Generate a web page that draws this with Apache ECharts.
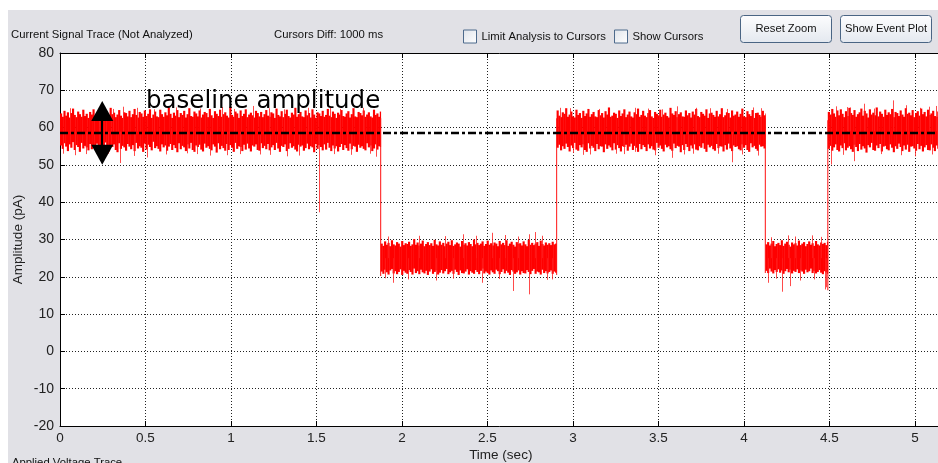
<!DOCTYPE html>
<html>
<head>
<meta charset="utf-8">
<script src="https://cdn.jsdelivr.net/npm/echarts@6/dist/echarts.min.js"></script>
<style>
html,body{margin:0;padding:0;background:#fff;}
#chart{width:938px;height:463px;}
</style>
</head>
<body>
<div id="chart"></div>
<script>
// ---- axis ticks ----
const xTicks = [0, 0.5, 1, 1.5, 2, 2.5, 3, 3.5, 4, 4.5, 5];
const yTicks = [-20, -10, 0, 10, 20, 30, 40, 50, 60, 70, 80];

// ---- trace: segment boundaries (sec) and per-bin (10 ms) envelope ----
const binStep = 0.01;
const segStart = [0, 1.875, 2.904, 4.125, 4.49];
const segEnd   = [1.875, 2.904, 4.125, 4.49, 5.155];
const segLevel = [58.9, 25.0, 58.9, 25.0, 59.0];

const hi1 = [63.8,62.9,64.5,63.2,64.1,62.7,63.9,65.1,63.4,62.8,64.3,63.6,62.9,64.8,63.1,63.7,62.6,64.2,63.5,64.9,
63.0,62.7,64.4,63.8,62.5,63.9,64.6,63.3,62.9,65.3,63.6,64.0,62.8,63.5,64.7,63.2,62.6,64.1,63.9,63.0,
64.5,62.8,63.6,65.0,63.4,62.7,64.2,63.8,62.9,64.6,63.1,63.7,64.9,62.6,63.5,64.3,63.0,62.8,64.8,63.6,
62.9,64.1,63.3,65.4,63.7,62.6,64.0,63.2,64.7,62.8,63.9,63.4,64.5,62.7,63.6,65.2,63.1,62.9,64.3,63.8,
63.0,64.6,62.7,63.5,64.2,63.9,62.8,65.0,63.3,62.6,64.4,63.7,63.1,64.8,62.9,63.6,64.1,63.2,62.7,65.6,
63.4,62.9,64.3,63.8,62.6,64.6,63.1,63.7,64.9,62.8,63.5,64.0,63.3,62.7,64.5,63.9,63.0,64.2,62.8,63.6,
64.7,63.2,62.9,64.1,63.8,62.6,65.1,63.4,63.0,64.4,62.8,63.7,64.8,63.1,62.7,64.0,63.5,65.3,62.9,63.6,
64.2,63.0,62.8,64.6,63.3,63.9,62.7,64.9,63.5,62.6,64.1,63.8,63.1,64.5,62.9,63.4,65.0,63.2,62.8,64.3,
63.7,62.6,64.0,63.5,64.7,63.1,62.9,63.8,64.4,62.7,63.6,65.2,63.0,62.8,64.2,63.9,63.3,64.6,62.9,63.5,
64.1,63.0,62.7,64.8,63.4,63.8,62.9,64.3];
const lo1 = [55.2,54.3,55.8,54.9,53.7,55.5,54.6,56.1,54.0,55.3,54.8,53.5,55.9,54.4,55.1,54.7,53.9,55.6,54.2,55.0,
54.5,55.7,53.8,54.9,55.4,54.1,56.0,54.6,53.6,55.2,54.8,55.5,54.0,53.4,55.8,54.3,55.1,54.7,53.8,55.6,
54.9,54.2,55.3,53.7,55.9,54.4,55.0,54.6,53.5,55.7,54.1,55.4,54.8,53.9,56.2,54.5,55.0,54.3,53.6,55.5,
54.7,55.2,53.8,54.9,55.6,54.0,55.3,54.5,53.4,55.8,54.2,55.1,54.7,53.7,55.5,54.4,55.9,54.0,53.5,55.2,
54.8,55.4,54.1,53.6,55.7,54.6,55.0,54.3,53.9,55.5,54.9,53.3,55.8,54.2,55.1,54.5,53.8,55.6,54.0,55.3,
54.6,53.5,55.9,54.3,55.0,54.8,53.7,55.4,54.1,55.7,54.4,53.6,55.2,54.9,55.5,54.0,53.8,55.8,54.5,55.1,
54.2,55.6,53.9,54.7,55.3,54.0,55.9,54.4,53.5,55.1,54.8,55.5,53.7,54.3,55.8,54.6,55.0,54.1,53.6,55.4,
54.9,55.2,53.8,54.5,55.7,54.2,55.0,54.7,53.4,55.6,54.3,55.3,54.8,53.9,55.5,54.1,55.9,54.6,53.7,55.2,
54.4,55.0,53.6,54.8,55.6,54.0,55.3,54.5,53.8,55.7,54.2,55.1,54.9,53.5,55.4,54.6,55.0,54.3,53.9,55.8,
54.7,55.2,53.7,54.4,55.5,54.1,55.0,54.8];

const hi2 = [28.9,28.3,29.5,28.6,29.1,28.2,29.8,28.7,28.4,29.3,28.9,28.1,29.6,28.5,29.0,28.8,29.4,28.3,28.7,30.1,
28.6,29.2,28.4,28.9,29.7,28.2,28.8,29.3,28.5,29.0,28.3,29.9,28.7,28.4,29.5,28.6,29.1,28.2,28.9,29.4,
28.5,29.8,28.3,28.7,29.2,28.9,28.1,29.6,28.6,29.0,28.4,29.3,28.8,28.2,30.0,28.7,29.1,28.5,28.9,29.5,
28.3,28.8,29.7,28.6,29.0,28.4,29.2,28.9,28.2,29.6,28.7,29.1,28.5,29.8,28.3,28.9,29.4,28.6,28.1,29.3,
28.8,29.0,28.4,29.5,28.7,28.2,29.9,28.6,29.1,28.5,28.9,29.3,28.3,29.7,28.8,28.4,29.2,28.6,29.0,28.5,
29.4,28.7,28.9];
const lo2 = [21.4,20.8,21.9,21.2,20.6,21.7,22.1,20.9,21.5,20.7,21.3,22.0,20.5,21.6,21.1,20.8,21.8,21.3,20.6,22.2,
21.0,21.5,20.7,21.9,21.2,20.9,21.6,20.5,21.4,22.0,20.8,21.3,21.7,20.6,21.1,21.8,20.9,21.5,22.1,20.7,
21.2,21.6,20.8,21.9,21.3,20.5,21.7,21.0,20.9,21.4,22.0,20.6,21.5,21.1,20.8,21.8,21.3,20.7,21.6,22.2,
20.9,21.4,21.0,20.6,21.7,21.2,20.8,21.9,21.5,20.7,21.3,22.0,20.9,21.6,21.1,20.5,21.8,21.4,20.8,21.2,
21.7,20.6,21.5,21.0,20.9,21.8,21.3,20.7,21.6,22.1,20.8,21.4,21.2,20.6,21.9,21.0,21.5,20.9,21.3,21.7,
20.8,21.4,21.1];

const hi3 = [64.6,63.2,62.8,64.1,63.7,65.2,62.9,63.5,64.3,63.0,62.7,64.8,63.4,63.9,62.6,64.5,63.1,63.8,65.0,62.9,
63.6,64.2,63.0,62.8,64.7,63.3,63.9,62.7,64.4,63.5,65.4,62.9,63.2,64.0,63.7,62.6,64.6,63.1,63.8,64.9,
62.8,63.5,64.3,63.0,62.7,64.1,63.6,65.1,62.9,63.4,64.5,63.2,62.8,63.9,64.7,63.0,62.6,64.2,63.7,63.3,
64.8,62.9,63.5,64.0,63.1,62.7,65.3,63.8,63.4,64.4,62.8,63.6,64.1,63.0,62.9,64.6,63.3,63.9,62.7,64.3,
63.5,65.0,63.1,62.8,64.2,63.7,63.2,64.9,62.6,63.8,64.0,63.4,62.9,64.5,63.0,63.6,65.2,62.8,63.3,64.1,
63.9,62.7,64.6,63.2,63.5,64.3,62.9,63.7,65.1,63.0,62.8,64.4,63.6,63.1,64.7,62.6,63.9,64.0,63.4,62.9,
64.5,63.3,63.8];
const lo3 = [54.6,55.4,53.9,55.0,54.3,55.7,54.8,53.6,55.2,54.5,55.9,54.1,53.8,55.3,54.7,55.5,54.0,53.5,55.8,54.4,
55.1,54.6,53.7,55.6,54.2,55.0,54.9,53.4,55.5,54.3,55.2,54.7,53.9,55.8,54.1,55.3,54.5,53.6,55.0,54.8,
55.4,53.8,54.9,55.7,54.0,55.1,54.6,53.5,55.6,54.2,55.3,54.8,53.7,55.5,54.4,55.0,54.1,53.9,55.9,54.6,
55.2,54.3,53.6,55.4,54.7,55.0,54.2,53.8,55.7,54.5,55.1,54.9,53.4,55.3,54.0,55.6,54.8,53.7,55.2,54.4,
55.5,54.1,53.9,55.0,54.6,55.8,54.3,53.5,55.4,54.7,55.1,54.2,53.8,55.6,54.5,55.0,54.9,53.6,55.3,54.1,
55.7,54.4,53.7,55.2,54.8,55.0,54.2,53.9,55.5,54.6,55.3,54.0,53.5,55.8,54.7,55.1,54.3,53.8,55.4,54.9,
55.0,54.4,55.6];

const hi4 = [28.7,29.3,28.4,28.9,29.6,28.2,28.8,29.1,28.5,29.8,28.3,28.9,29.4,28.6,28.1,29.2,28.7,29.0,28.4,29.7,
28.5,28.9,29.3,28.2,28.8,29.5,28.6,29.0,28.3,29.6,28.7,28.4,29.2,28.8,29.1,28.5,29.4];
const lo4 = [21.6,21.0,22.2,21.4,20.9,21.8,21.3,22.0,21.1,21.7,20.8,21.5,22.1,21.2,21.9,20.9,21.6,21.3,22.0,21.0,
21.7,21.4,20.8,21.9,21.2,21.5,22.2,21.0,21.6,20.9,21.3,21.8,21.1,20.7,21.5,21.2,20.8];

const hi5 = [64.2,63.5,65.0,63.8,62.9,64.6,63.3,64.9,63.7,62.8,64.4,63.1,65.3,63.9,63.4,64.7,62.9,63.6,64.1,65.1,
63.2,64.5,63.8,62.7,64.9,63.5,64.0,63.3,65.4,63.0,64.3,63.7,62.9,64.8,63.4,64.1,63.6,65.0,62.8,64.2,
63.9,63.1,64.6,63.5,62.9,65.2,63.7,64.0,63.3,64.7,62.8,63.9,64.4,63.2,65.1,63.6,64.2,63.0,64.8,63.4,
63.8,64.5,63.1,62.9,64.3,63.7,64.9];
const lo5 = [54.3,55.1,53.8,54.7,55.5,54.0,53.6,55.2,54.5,55.8,53.9,54.6,55.0,54.2,53.5,55.4,54.8,53.7,55.6,54.1,
55.0,54.4,53.3,55.3,54.7,55.9,54.0,53.8,55.2,54.5,55.6,53.6,54.9,55.1,54.2,53.9,55.5,54.6,53.4,55.0,
54.3,55.7,54.8,53.7,55.2,54.1,55.4,53.5,54.9,55.0,54.4,53.8,55.6,54.2,55.1,53.6,54.7,55.3,54.0,53.9,
55.5,54.6,53.7,55.2,54.3,55.0,54.8];

// isolated spikes [time, amplitude]
const spikes = [[0.02,53.0],[0.06,65.2],[0.09,52.6],[0.15,52.9],[0.23,65.4],[0.28,53.0],[0.31,65.0],[0.351,50.5],[0.37,65.6],
[0.43,52.4],[0.45,65.3],[0.507,52.0],[0.55,64.9],[0.62,52.8],[0.68,65.4],[0.74,53.1],[0.80,52.9],[0.82,65.1],
[0.88,52.5],[0.95,65.5],[0.975,52.6],[1.02,65.0],[1.05,52.9],[1.13,65.8],[1.17,52.8],[1.22,65.2],[1.228,52.7],
[1.31,64.9],[1.33,52.3],[1.40,52.5],[1.45,65.3],[1.516,37.3],[1.58,65.4],[1.60,52.9],[1.64,65.0],
[1.70,52.7],[1.77,65.3],[1.81,53.0],[1.85,52.2],
[1.90,19.6],[1.92,30.8],[1.949,18.4],[2.037,19.3],[2.1,31.0],[2.2,19.0],[2.25,30.9],[2.3,19.5],[2.358,31.4],
[2.43,31.0],[2.466,18.4],[2.524,31.8],[2.57,19.4],[2.6,31.2],[2.651,16.2],[2.68,30.8],
[2.74,31.4],[2.745,15.3],[2.778,32.0],[2.82,31.0],[2.85,19.2],[2.88,19.3],
[2.924,65.3],[2.98,65.2],[3.0,53.2],[3.06,52.7],[3.1,52.8],[3.15,65.0],[3.25,53.0],[3.3,52.9],[3.36,65.3],[3.363,53.5],
[3.44,65.1],[3.48,52.6],[3.52,64.9],[3.577,51.9],[3.606,65.7],[3.65,52.8],[3.7,53.0],[3.72,65.3],
[3.8,65.2],[3.85,53.0],[3.9,65.0],[3.928,50.7],[3.987,52.8],[4.05,65.4],[4.08,52.5],[4.1,65.2],
[4.142,18.4],[4.16,30.6],[4.19,19.5],[4.22,16.0],[4.259,31.1],[4.269,17.5],[4.3,30.8],[4.33,19.0],[4.396,31.1],
[4.41,19.3],[4.45,30.7],[4.474,16.6],[4.48,17.2],
[4.509,50.1],[4.54,65.7],[4.58,52.7],[4.6,65.5],[4.62,65.4],[4.645,51.0],[4.704,66.4],[4.76,65.1],[4.8,52.9],
[4.874,67.3],[4.92,52.6],[4.95,66.0],[5.0,52.3],[5.03,65.3],[5.08,65.6],[5.1,52.8],[5.12,65.8]];

// level transitions [time, from, to]
const transitions = [[1.875,62.5,20.2],[2.904,20.5,62.5],[4.125,62.5,21.0],[4.49,16.4,62.0]];

const baselineAmplitude = 58.7;
const arrowTime = 0.247, arrowTop = 64.45, arrowBottom = 52.75;

// ---- build data for the library ----
const segHi = [hi1, hi2, hi3, hi4, hi5];
const segLo = [lo1, lo2, lo3, lo4, lo5];
const binData = [];
segStart.forEach((s, k) => {
  segHi[k].forEach((h, i) => {
    const t0 = s + i * binStep;
    const t1 = Math.min(t0 + binStep, segEnd[k]);
    binData.push([t0, t1, segLo[k][i], h]);
  });
});
function levelAt(t) {
  for (let k = segStart.length - 1; k >= 0; k--) if (t >= segStart[k]) return segLevel[k];
  return segLevel[0];
}
const spikeData = spikes.map(s => [s[0], levelAt(s[0]), s[1]]);

const FONT = 'Liberation Sans, Arial, Helvetica, sans-serif';
const chart = echarts.init(document.getElementById('chart'), null, {renderer: 'canvas'});

function btn(x, y, w, h, label) {
  return {
    type: 'group', children: [
      {type: 'rect', shape: {x: x, y: y, width: w, height: h, r: 3},
       style: {fill: new echarts.graphic.LinearGradient(0, 0, 0, 1, [{offset: 0, color: '#fdfdfe'}, {offset: 1, color: '#e3e8ef'}]),
               stroke: '#4a6584', lineWidth: 1}},
      {type: 'text', style: {x: x + w / 2, y: y + h / 2, text: label, font: '11.2px ' + FONT, fill: '#111', align: 'center', verticalAlign: 'middle'}}
    ]
  };
}
function checkbox(x, y, label) {
  return {
    type: 'group', children: [
      {type: 'rect', shape: {x: x, y: y, width: 13, height: 13},
       style: {fill: new echarts.graphic.LinearGradient(0, 0, 1, 1, [{offset: 0, color: '#dfe3ea'}, {offset: 1, color: '#ffffff'}]),
               stroke: '#4d6a8c', lineWidth: 1}},
      {type: 'text', style: {x: x + 18, y: y + 7, text: label, font: '11.3px ' + FONT, fill: '#111', verticalAlign: 'middle'}}
    ]
  };
}

const option = {
  animation: false,
  backgroundColor: '#ffffff',
  graphic: [
    {type: 'rect', z: -100, silent: true, shape: {x: 8, y: 10, width: 930, height: 453}, style: {fill: '#e1e1e6'}},
    {type: 'text', style: {x: 11, y: 35, text: 'Current Signal Trace (Not Analyzed)', font: '11.3px ' + FONT, fill: '#111', verticalAlign: 'middle'}},
    {type: 'text', style: {x: 274, y: 35, text: 'Cursors Diff: 1000 ms', font: '11.3px ' + FONT, fill: '#111', verticalAlign: 'middle'}},
    checkbox(463.5, 30, 'Limit Analysis to Cursors'),
    checkbox(614.5, 30, 'Show Cursors'),
    btn(740.5, 15.5, 91, 27, 'Reset Zoom'),
    btn(840.5, 15.5, 91, 27, 'Show Event Plot'),
    {type: 'text', style: {x: 12, y: 457, text: 'Applied Voltage Trace', font: '11.3px ' + FONT, fill: '#111', verticalAlign: 'top'}},
    {type: 'text', z: 100, style: {x: 146, y: 102, text: 'baseline amplitude', font: '24.5px DejaVu Sans, sans-serif', fill: '#000', verticalAlign: 'middle'}}
  ],
  grid: {left: 60, top: 53, right: -3.5, bottom: 37, show: true, backgroundColor: '#ffffff', borderWidth: 0,
         outerBoundsMode: 'none', containLabel: false},
  xAxis: [{
    type: 'value', min: 0, max: 5.155, interval: 0.5, position: 'bottom',
    name: 'Time (sec)', nameLocation: 'middle', nameGap: 22, nameMoveOverlap: false,
    nameTextStyle: {fontFamily: FONT, fontSize: 13.5, color: '#222'},
    axisLine: {show: true, onZero: false, lineStyle: {color: '#000', width: 1}},
    axisTick: {show: true, inside: true, length: 5, lineStyle: {color: '#000'}},
    axisLabel: {fontFamily: FONT, fontSize: 13.5, color: '#222', margin: 5, showMaxLabel: false,
      formatter: v => (xTicks.indexOf(Math.round(v * 1000) / 1000) >= 0 ? String(Math.round(v * 10) / 10) : '')},
    splitLine: {show: true, lineStyle: {color: '#222', width: 1, type: [1, 2]}}
  }, {
    type: 'value', min: 0, max: 5.155, interval: 0.5, position: 'top',
    axisLine: {show: true, onZero: false, lineStyle: {color: '#000', width: 1}},
    axisTick: {show: true, inside: true, length: 5, lineStyle: {color: '#000'}},
    axisLabel: {show: false}, splitLine: {show: false}
  }],
  yAxis: [{
    type: 'value', min: -20, max: 80, interval: 10,
    name: 'Amplitude (pA)', nameLocation: 'middle', nameGap: 35, nameMoveOverlap: false,
    nameTextStyle: {fontFamily: FONT, fontSize: 13.5, color: '#222'},
    axisLine: {show: true, onZero: false, lineStyle: {color: '#000', width: 1}},
    axisTick: {show: true, inside: true, length: 5, lineStyle: {color: '#000'}},
    axisLabel: {fontFamily: FONT, fontSize: 14, color: '#222', margin: 6,
      formatter: v => (yTicks.indexOf(v) >= 0 ? String(v) : '')},
    splitLine: {show: true, lineStyle: {color: '#222', width: 1, type: [1, 2]}}
  }],
  series: [
    {
      type: 'custom', name: 'trace', z: 2, clip: true,
      data: binData,
      encode: {x: [0, 1], y: [2, 3]},
      renderItem: function (params, api) {
        const p0 = api.coord([api.value(0), api.value(3)]);
        const p1 = api.coord([api.value(1), api.value(2)]);
        return {type: 'rect', shape: {x: p0[0], y: p0[1], width: p1[0] - p0[0] + 0.45, height: p1[1] - p0[1]},
                style: {fill: '#ff0000'}};
      }
    },
    {
      type: 'custom', name: 'spikes', z: 3, clip: true,
      data: spikeData,
      encode: {x: 0, y: [1, 2]},
      renderItem: function (params, api) {
        const a = api.coord([api.value(0), api.value(1)]);
        const b = api.coord([api.value(0), api.value(2)]);
        return {type: 'line', shape: {x1: Math.round(a[0]) + 0.5, y1: a[1], x2: Math.round(a[0]) + 0.5, y2: b[1]},
                style: {stroke: 'rgba(255,30,30,0.8)', lineWidth: 1}};
      }
    },
    {
      type: 'custom', name: 'transitions', z: 3, clip: true,
      data: transitions,
      encode: {x: 0, y: [1, 2]},
      renderItem: function (params, api) {
        const a = api.coord([api.value(0), api.value(1)]);
        const b = api.coord([api.value(0), api.value(2)]);
        return {type: 'line', shape: {x1: a[0], y1: a[1], x2: b[0], y2: b[1]},
                style: {stroke: 'rgba(255,20,20,0.85)', lineWidth: 1.2}};
      }
    },
    {
      type: 'line', name: 'baseline', z: 5, data: [], silent: true,
      markLine: {
        silent: true, animation: false, symbol: ['none', 'none'], label: {show: false},
        lineStyle: {color: '#000', width: 2.4, type: [8, 3, 3, 3]},
        data: [{yAxis: baselineAmplitude}]
      }
    },
    {
      type: 'line', name: 'arrow', z: 6, data: [], silent: true,
      markLine: {
        silent: true, animation: false, symbol: ['triangle', 'triangle'], symbolSize: [22, 20],
        label: {show: false},
        lineStyle: {color: '#000', width: 2, type: 'solid'},
        data: [[{coord: [arrowTime, arrowTop]}, {coord: [arrowTime, arrowBottom]}]]
      }
    }
  ]
};
chart.setOption(option);
</script>
</body>
</html>
